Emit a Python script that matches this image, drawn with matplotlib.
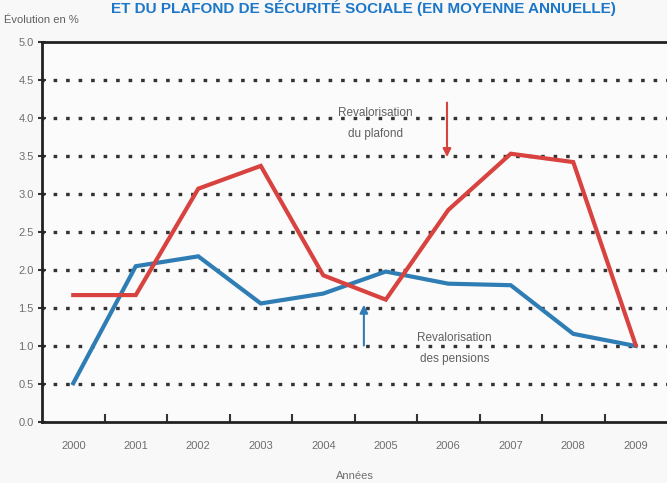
import matplotlib.pyplot as plt

# Data
years = ["2000", "2001", "2002", "2003", "2004", "2005", "2006", "2007", "2008", "2009"]
pensions = [0.51, 2.05, 2.18, 1.56, 1.69, 1.98, 1.82, 1.80, 1.16, 1.00]
plafond = [1.67, 1.67, 3.07, 3.37, 1.93, 1.61, 2.79, 3.53, 3.42, 1.01]
yticks = [0.0, 0.5, 1.0, 1.5, 2.0, 2.5, 3.0, 3.5, 4.0, 4.5, 5.0]

plt.rcParams['font.family'] = ['Liberation Sans', 'DejaVu Sans']
plt.rcParams['lines.scale_dashes'] = False

fig = plt.figure(figsize=(6.67, 4.83), dpi=100, facecolor='#f8f8f8')
ax = fig.add_axes([0.063, 0.1263, 0.937, 0.7867])
ax.set_facecolor('#fbfbfb')

x = list(range(len(years)))

# Dotted horizontal grid lines
for v in yticks[1:-1]:
    ax.axhline(v, color='#333333', lw=2.4, linestyle=(-8, (2.6, 6.4)), zorder=1)

ax.plot(x, pensions, color='#2f7db5', lw=3, solid_joinstyle='miter', zorder=3)
ax.plot(x, plafond, color='#d8423f', lw=3, solid_joinstyle='miter', zorder=3)

ax.set_xlim(-0.5, 9.5)
ax.set_ylim(0, 5)

# Axes frame
ax.spines['right'].set_visible(False)
for side in ['left', 'bottom', 'top']:
    ax.spines[side].set_color('#222222')
    ax.spines[side].set_linewidth(2)

ax.set_yticks(yticks)
ax.set_yticklabels([f"{v:.1f}" for v in yticks])
ax.tick_params(axis='y', direction='inout', length=6, width=1.5, color='#333333',
               labelsize=8, labelcolor='#6e6e6e', pad=3)

# Year labels centred between the tick marks
ax.set_xticks(x)
ax.set_xticklabels(years)
ax.set_xticks([i + 0.5 for i in range(9)], minor=True)
ax.tick_params(axis='x', which='major', length=0, labelsize=8, labelcolor='#6e6e6e', pad=14)
ax.tick_params(axis='x', which='minor', direction='in', length=6, width=1.5, color='#333333')

ax.set_xlabel("Années", fontsize=8, color='#6e6e6e', labelpad=14)

# Annotations
ax.text(4.83, 3.93, "Revalorisation\ndu plafond", ha='center', va='center',
        fontsize=8.5, color='#606060', linespacing=2.0)
ax.annotate("", xy=(5.98, 3.45), xytext=(5.98, 4.24),
            arrowprops=dict(arrowstyle='-|>', color='#d8423f', lw=1.5, mutation_scale=12))
ax.text(6.1, 0.97, "Revalorisation\ndes pensions", ha='center', va='center',
        fontsize=8.5, color='#606060', linespacing=2.0)
ax.annotate("", xy=(4.65, 1.58), xytext=(4.65, 0.97),
            arrowprops=dict(arrowstyle='-|>', color='#2f7db5', lw=1.5, mutation_scale=12))

fig.text(0.006, 1 - 20 / 483, "Évolution en %", fontsize=8, color='#606060', ha='left', va='center')
fig.text(0.545, 1 - 13 / 483, "ET DU PLAFOND DE SÉCURITÉ SOCIALE (EN MOYENNE ANNUELLE)",
         fontsize=11, fontweight='bold', color='#1d77c9', ha='center', va='baseline')

fig.savefig("out.png", dpi=100, facecolor=fig.get_facecolor())
